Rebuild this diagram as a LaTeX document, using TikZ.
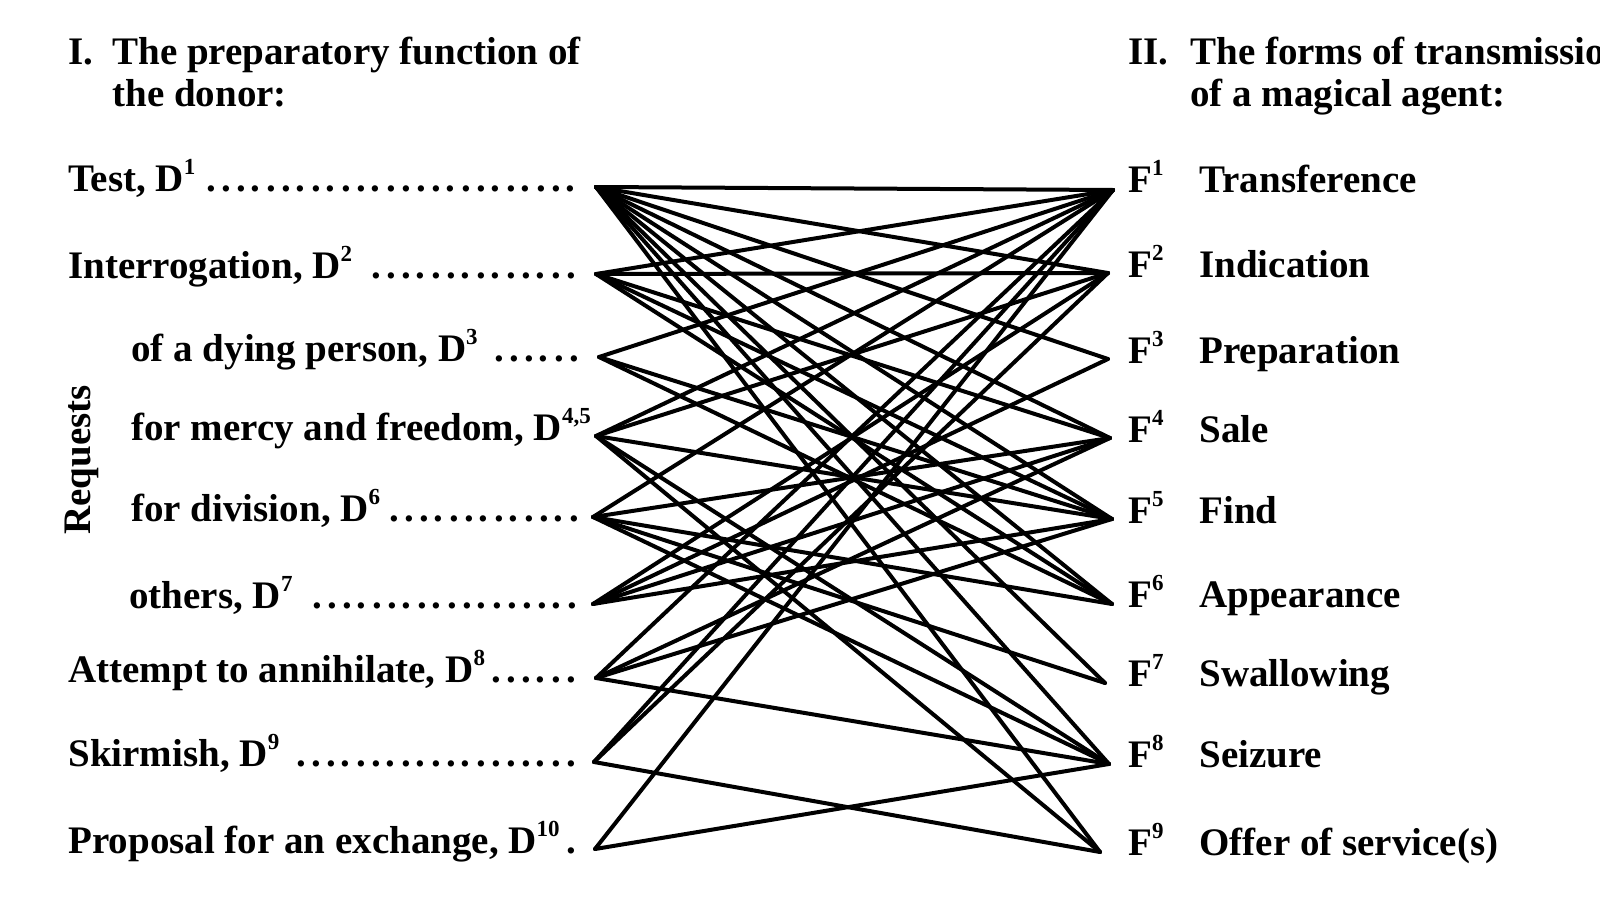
\documentclass[tikz,border=0pt]{standalone}
\usepackage{fontspec}
\setmainfont{Liberation Serif}
\usetikzlibrary{positioning}

\newcommand{\dotrow}{\leaders\hbox to 7.5pt{\hss.\hss}\hfill}
\newcommand{\ix}[1]{\raisebox{0.42em}{\fontsize{11.5}{12}\selectfont#1}}

\begin{document}
\begin{tikzpicture}[x=0.5pt,y=-0.5pt]
\tikzstyle{lab}=[anchor=base west, inner sep=0pt, font=\fontsize{19.5}{23}\selectfont\bfseries]
\tikzstyle{link}=[line width=2pt, line cap=round, line join=round]
\useasboundingbox (0,0) rectangle (1600,910);

% headings
\node[lab] (hd1) at (68,64) {I.};
\node[lab] (hd1a) at (112,64) {The preparatory function of};
\node[lab] (hd1b) at (112,106) {the donor:};
\node[lab] (hd2) at (1128,64) {II.};
\node[lab] (hd2a) at (1190,64) {The forms of transmission};
\node[lab] (hd2b) at (1190,106) {of a magical agent:};

% left column, ends of the dotted rows
\coordinate (d1) at (596,187);
\coordinate (d2) at (596,274);
\coordinate (d3) at (599,357);
\coordinate (d4) at (596,436);
\coordinate (d6) at (593,517);
\coordinate (d7) at (593,604);
\coordinate (d8) at (596,678);
\coordinate (d9) at (594,762);
\coordinate (d10) at (595,849);

\node[lab] (l1) at (68,191) {\makebox[257pt][l]{Test, D\ix{1}\,\dotrow}};
\node[lab] (l2) at (68,278) {\makebox[257pt][l]{Interrogation, D\ix{2}\,\dotrow}};
\node[lab] (l3) at (131,361) {\makebox[225.5pt][l]{of a dying person, D\ix{3}\dotrow}};
\node[lab] (l4) at (131,440) {\makebox[225.5pt][l]{for mercy and freedom, D\ix{4,5}\dotrow}};
\node[lab] (l6) at (131,521) {\makebox[225.5pt][l]{for division, D\ix{6}\dotrow}};
\node[lab] (l7) at (129,608) {\makebox[226.5pt][l]{others, D\ix{7}\,\dotrow}};
\node[lab] (l8) at (68,682) {\makebox[257pt][l]{Attempt to annihilate, D\ix{8}\dotrow}};
\node[lab] (l9) at (68,766) {\makebox[257pt][l]{Skirmish, D\ix{9}\,\dotrow}};
\node[lab] (l10) at (68,853) {\makebox[257pt][l]{Proposal for an exchange, D\ix{10}\dotrow}};
\node[lab, rotate=90, anchor=center] (req) at (82,460) {Requests};

% right column
\coordinate (f1) at (1113,190);
\coordinate (f2) at (1108,273);
\coordinate (f3) at (1108,359);
\coordinate (f4) at (1110,438);
\coordinate (f5) at (1112,519);
\coordinate (f6) at (1112,604);
\coordinate (f7) at (1105,683);
\coordinate (f8) at (1109,764);
\coordinate (f9) at (1100,852);

\foreach \i/\y/\name in {1/192/Transference, 2/277/Indication, 3/363/Preparation,
  4/442/Sale, 5/523/Find, 6/607/Appearance, 7/686/Swallowing, 8/767/Seizure,
  9/855/Offer of service(s)}{
  \node[lab] (fl\i) at (1128,\y) {F\ix{\i}};
  \node[lab] (fn\i) at (1199,\y) {\name};
}

% connections D -> F
\foreach \a/\b in {1/1,1/2,1/3,1/4,1/5,1/6,1/7,1/8,1/9,
  2/1,2/2,2/4,2/5,2/6,
  3/1,3/5,3/6,
  4/1,4/2,4/5,4/8,4/9,
  6/1,6/4,6/6,6/7,6/8,
  7/2,7/3,7/4,7/5,
  8/1,8/4,8/5,8/8,
  9/1,9/2,9/9,
  10/1,10/8}
  \draw[link] (d\a) -- (f\b);

\end{tikzpicture}
\end{document}
